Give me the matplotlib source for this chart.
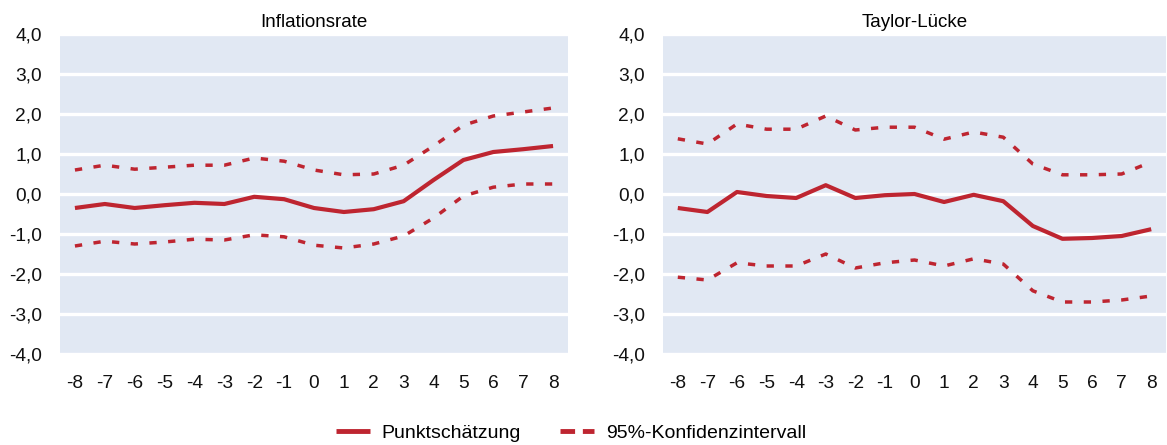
import matplotlib
matplotlib.use("Agg")
import matplotlib.pyplot as plt
from matplotlib.ticker import FuncFormatter
from matplotlib.lines import Line2D

plt.rcParams['font.family'] = ['Liberation Sans', 'DejaVu Sans']

x = list(range(-8, 9))
x_labels = [str(v) for v in x]

infl_point = [-0.35, -0.25, -0.35, -0.28, -0.22, -0.25, -0.07, -0.13, -0.35, -0.45, -0.38, -0.18, 0.35, 0.85, 1.05, 1.12, 1.2]
infl_upper = [0.6, 0.72, 0.62, 0.67, 0.72, 0.72, 0.9, 0.82, 0.6, 0.48, 0.5, 0.72, 1.2, 1.72, 1.95, 2.05, 2.15]
infl_lower = [-1.3, -1.18, -1.25, -1.2, -1.13, -1.15, -1.02, -1.07, -1.28, -1.35, -1.25, -1.05, -0.6, -0.05, 0.17, 0.25, 0.25]

taylor_point = [-0.35, -0.45, 0.05, -0.05, -0.1, 0.22, -0.1, -0.03, 0.0, -0.2, -0.02, -0.18, -0.8, -1.12, -1.1, -1.05, -0.88]
taylor_upper = [1.38, 1.25, 1.75, 1.62, 1.62, 1.95, 1.6, 1.67, 1.67, 1.37, 1.55, 1.42, 0.75, 0.48, 0.48, 0.5, 0.8]
taylor_lower = [-2.08, -2.15, -1.72, -1.8, -1.8, -1.5, -1.85, -1.72, -1.65, -1.8, -1.62, -1.75, -2.42, -2.7, -2.7, -2.65, -2.55]

titles = ["Inflationsrate", "Taylor-Lücke"]
legend_labels = ["Punktschätzung", "95%-Konfidenzintervall"]
y_ticks = [-4, -3, -2, -1, 0, 1, 2, 3, 4]

RED = "#BE2530"
BG = "#E1E8F3"
FS = 13.8

fig = plt.figure(figsize=(11.67, 4.45), dpi=100)
ax1 = fig.add_axes([60/1167, 1-354/445, 508/1167, 320/445])
ax2 = fig.add_axes([663/1167, 1-354/445, 503/1167, 320/445])

fmt = FuncFormatter(lambda v, p: f"{v:.1f}".replace(".", ","))

for ax, title, pt, up, lo in [(ax1, titles[0], infl_point, infl_upper, infl_lower),
                              (ax2, titles[1], taylor_point, taylor_upper, taylor_lower)]:
    ax.set_facecolor(BG)
    for s in ax.spines.values():
        s.set_visible(False)
    ax.set_ylim(-4, 4)
    ax.set_xlim(-8.5, 8.5)
    ax.set_yticks(y_ticks)
    ax.yaxis.set_major_formatter(fmt)
    ax.set_xticks(x)
    ax.set_xticklabels(x_labels)
    ax.tick_params(axis='both', length=0, labelsize=FS, colors='#111111')
    ax.tick_params(axis='x', pad=15)
    ax.tick_params(axis='y', pad=13)
    ax.grid(axis='y', color='white', linewidth=2.4)
    ax.set_axisbelow(True)
    ax.plot(x, pt, color=RED, linewidth=3.0, solid_capstyle='butt')
    ax.plot(x, up, color=RED, linewidth=2.5, linestyle=(0, (2.1, 3.3)))
    ax.plot(x, lo, color=RED, linewidth=2.5, linestyle=(0, (2.1, 3.3)))
    ax.set_title(title, fontsize=13.5, pad=5)

h1 = Line2D([], [], color=RED, linewidth=3.5, solid_capstyle='butt')
h2 = Line2D([], [], color=RED, linewidth=3.5, linestyle=(0, (3.0, 1.6)))
fig.legend([h1, h2], legend_labels,
           loc='center', bbox_to_anchor=(571/1167, 1-433/445), ncol=2, frameon=False,
           fontsize=14, handlelength=1.75, columnspacing=2.0, handletextpad=0.6)

fig.savefig("out.png", dpi=100)
